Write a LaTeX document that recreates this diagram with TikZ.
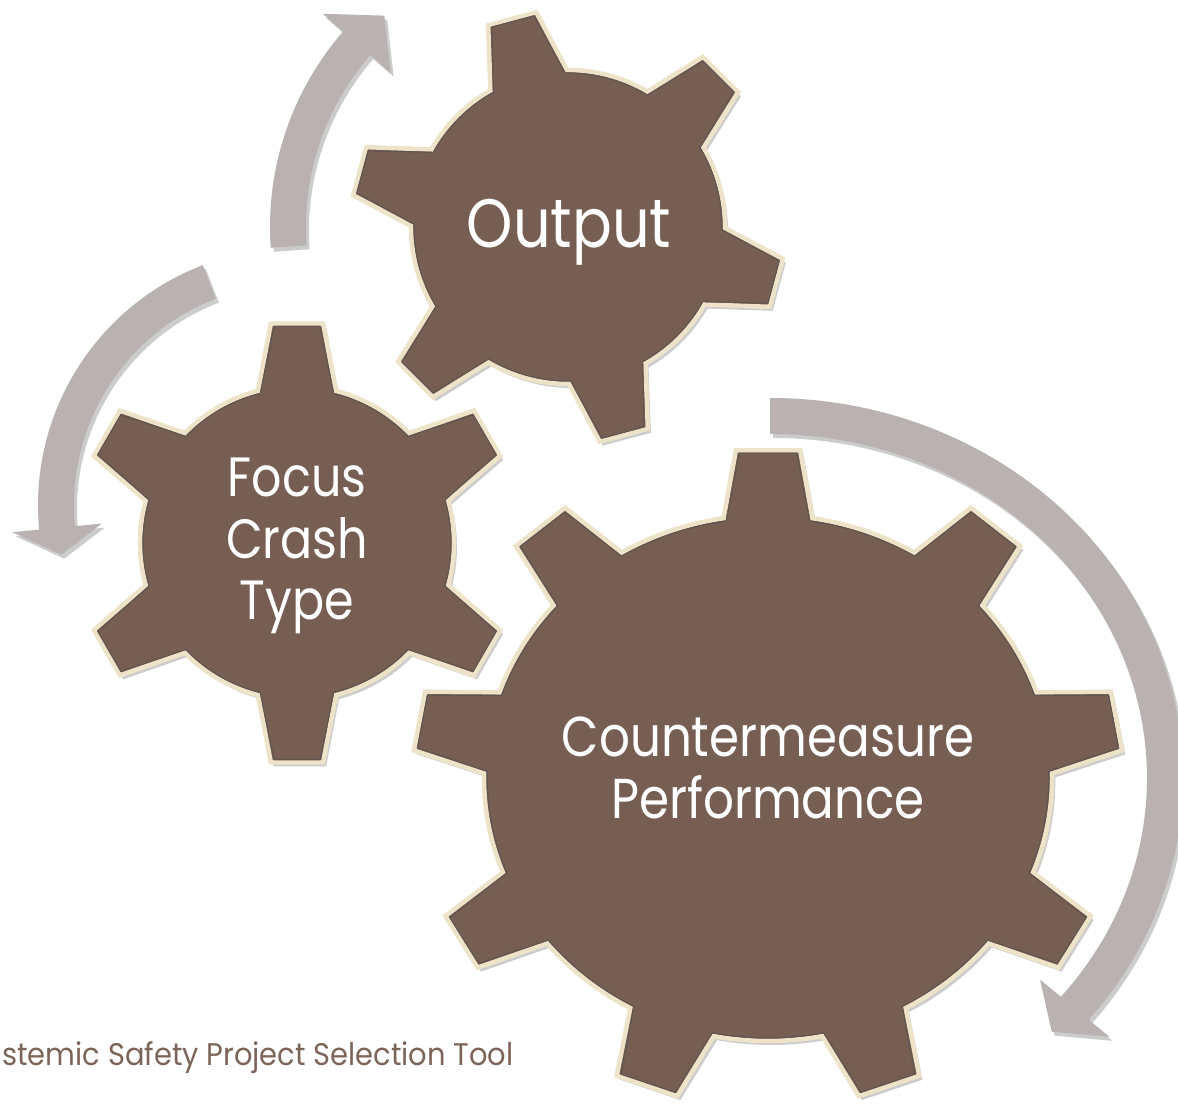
\documentclass[tikz,border=0pt]{standalone}
\usepackage{fontspec}
\newfontfamily\gearfont[FakeStretch=0.86]{Poppins}
\newfontfamily\titlefont[FakeStretch=0.925]{Poppins}
\definecolor{gearbrown}{HTML}{765E53}
\definecolor{gearcream}{HTML}{EEE2C8}
\definecolor{edgegrey}{HTML}{5E5550}
\definecolor{arrowgrey}{HTML}{B9B2B0}
\definecolor{titlebrown}{HTML}{7D6459}
\begin{document}
\begin{tikzpicture}[x=0.02cm,y=0.02cm]
    \tikzset{
        gearbody/.style={fill=gearbrown, draw=gearcream, line width=2.6pt, line join=miter},
        gearline/.style={draw=edgegrey, line width=0.6pt, line join=miter},
        geartext/.style={text=white, align=center, inner sep=0pt},
        bentarrow/.style={fill=arrowgrey},
        softshadow/.style={fill=black, fill opacity=0.2, shift={(3,-4)}},}
    % teeth, root radius, tip radius, first tooth angle, half angle at root, half angle at tip
    \def\gearpath#1#2#3#4#5#6{({#4-#5}:#2) \foreach \k in {1,...,#1}{
        -- ({#4+(\k-1)*360/#1-#6}:#3) -- ({#4+(\k-1)*360/#1+#6}:#3)
        -- ({#4+(\k-1)*360/#1+#5}:#2)
        arc[start angle={#4+(\k-1)*360/#1+#5}, end angle={#4+\k*360/#1-#5}, radius=#2]} -- cycle}
    % start angle, head angle, tip angle, x radius, y radius
    \def\arrowpath#1#2#3#4#5{({(#4+18)*cos(#1)},{(#5+18)*sin(#1)})
        arc[start angle=#1, end angle=#2, x radius={#4+18}, y radius={#5+18}]
        -- ({(#4+45)*cos(#2)},{(#5+45)*sin(#2)}) -- ({#4*cos(#3)},{#5*sin(#3)})
        -- ({(#4-45)*cos(#2)},{(#5-45)*sin(#2)}) -- ({(#4-18)*cos(#2)},{(#5-18)*sin(#2)})
        arc[start angle=#2, end angle=#1, x radius={#4-18}, y radius={#5-18}] -- cycle}
    \useasboundingbox (0,0) rectangle (1178,1105);
    \clip (0,0) rectangle (1178,1105);

    % arrows
    \begin{scope}[shift={(568,878)}]
        \fill[softshadow] \arrowpath{184}{139}{131}{280}{280};
        \fill[bentarrow] \arrowpath{184}{139}{131}{280}{280};
    \end{scope}
    \begin{scope}[shift={(295,600)}]
        \fill[softshadow] \arrowpath{111}{185.5}{192}{239}{239};
        \fill[bentarrow] \arrowpath{111}{185.5}{192}{239}{239};
    \end{scope}
    \begin{scope}[shift={(770,327)}]
        \fill[softshadow] \arrowpath{90}{-39.5}{-44.5}{395}{362};
        \fill[bentarrow] \arrowpath{90}{-39.5}{-44.5}{395}{362};
    \end{scope}

    % gears
    \begin{scope}[shift={(568,878)}]
        \fill[softshadow] \gearpath{6}{157}{217}{105}{14.6}{6.6};
        \filldraw[gearbody] \gearpath{6}{157}{217}{105}{14.6}{6.6};
        \draw[gearline] \gearpath{6}{154}{214}{105}{14.0}{5.85};
    \end{scope}
    \begin{scope}[shift={(297,562)}]
        \fill[softshadow] \gearpath{6}{157}{221}{90}{14.4}{6.8};
        \filldraw[gearbody] \gearpath{6}{157}{221}{90}{14.4}{6.8};
        \draw[gearline] \gearpath{6}{154}{218}{90}{13.8}{6.05};
    \end{scope}
    \begin{scope}[shift={(768,327)}, xscale=1.08]
        \fill[softshadow] \gearpath{9}{263}{329}{90}{9.0}{5.2};
        \filldraw[gearbody] \gearpath{9}{263}{329}{90}{9.0}{5.2};
        \draw[gearline] \gearpath{9}{260}{326}{90}{8.55}{4.7};
    \end{scope}

    \node[geartext, font=\gearfont\fontsize{39}{44}\selectfont, anchor=base] (output) at (569,857) {Output};
    \node[geartext, font=\gearfont\fontsize{31.5}{35.2}\selectfont] (focus) at (297,559) {Focus\\Crash\\Type};
    \node[geartext, font=\gearfont\fontsize{32}{35.7}\selectfont] (counter) at (768,337) {Countermeasure\\Performance};
    \node[anchor=base west, text=titlebrown, inner sep=0pt, font=\titlefont\fontsize{17.8}{20}\selectfont] (title) at (2,39) {stemic Safety Project Selection Tool};
\end{tikzpicture}
\end{document}
